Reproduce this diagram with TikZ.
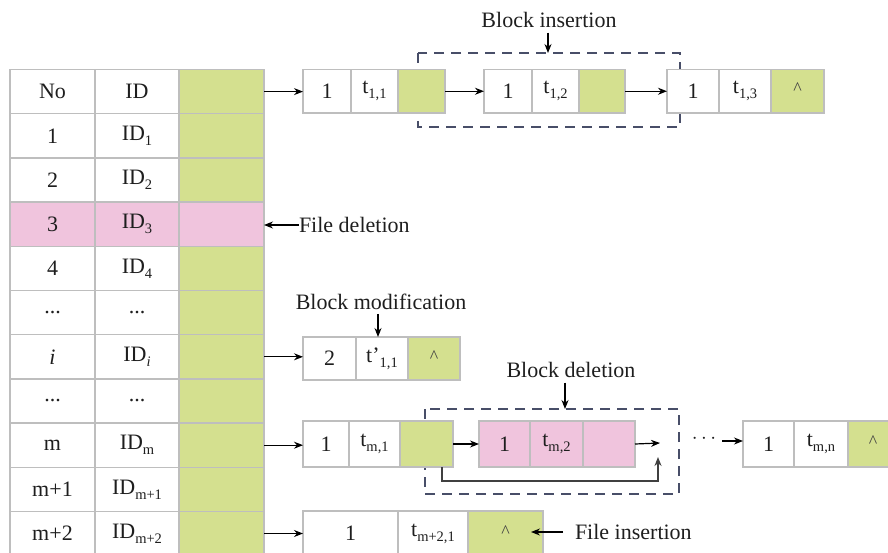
\documentclass[tikz,border=0pt]{standalone}
\usepackage{fontspec}
\setmainfont{Liberation Serif}
\usetikzlibrary{arrows.meta,calc}
\definecolor{cgreen}{RGB}{212,224,143}
\definecolor{cpink}{RGB}{240,196,221}
\definecolor{cgray}{RGB}{190,190,190}
\definecolor{cdash}{RGB}{72,78,104}
\definecolor{ctext}{RGB}{30,30,30}
\newcommand\lowsub[1]{\raisebox{-0.22em}{\fontsize{14.5}{14.5}\selectfont #1}}
\newcommand\caretmark{{\color{black!75}\fontsize{18}{18}\selectfont\raisebox{0.25em}{\textasciicircum}}}
\newcommand\cellbox[7]{\node[cell,fill=#6,minimum width={(#4-#2)*1pt},minimum height={(#5-#3)*1pt}] (#1) at ({(#2+#4)/2},{(#3+#5)/2}) {#7};}
\tikzset{
  cell/.style={draw=cgray, line width=1.3pt, inner sep=0pt, outer sep=0pt, text=ctext, font=\fontsize{22}{25}\selectfont},
  lbl/.style={inner sep=0pt, outer sep=0pt, text=ctext, font=\fontsize{22}{25}\selectfont},
  arr/.style={-{Stealth[length=9pt,width=7pt]}, line width=1.2pt, black},
  dashbox/.style={draw=cdash, line width=1.3pt, dash pattern=on 10pt off 7pt},
}
\begin{document}
\begin{tikzpicture}[x=1pt,y=-1pt]
\useasboundingbox (0,0) rectangle (888,553);
\clip (0,0) rectangle (888,553);
% dashed boxes (behind cells)
\draw[dashbox] (418,53) rectangle (680,127);
\draw[dashbox] (425,409) rectangle (679,494);
% table
\cellbox{n0}{10}{69.5}{95}{113.7}{white}{No}
\cellbox{d0}{95}{69.5}{179}{113.7}{white}{ID}
\cellbox{p0}{179}{69.5}{264}{113.7}{cgreen}{}
\cellbox{n1}{10}{113.7}{95}{157.9}{white}{1}
\cellbox{d1}{95}{113.7}{179}{157.9}{white}{ID\lowsub{1}}
\cellbox{p1}{179}{113.7}{264}{157.9}{cgreen}{}
\cellbox{n2}{10}{157.9}{95}{202.1}{white}{2}
\cellbox{d2}{95}{157.9}{179}{202.1}{white}{ID\lowsub{2}}
\cellbox{p2}{179}{157.9}{264}{202.1}{cgreen}{}
\cellbox{n3}{10}{202.1}{95}{246.3}{cpink}{3}
\cellbox{d3}{95}{202.1}{179}{246.3}{cpink}{ID\lowsub{3}}
\cellbox{p3}{179}{202.1}{264}{246.3}{cpink}{}
\cellbox{n4}{10}{246.3}{95}{290.5}{white}{4}
\cellbox{d4}{95}{246.3}{179}{290.5}{white}{ID\lowsub{4}}
\cellbox{p4}{179}{246.3}{264}{290.5}{cgreen}{}
\cellbox{n5}{10}{290.5}{95}{334.7}{white}{...}
\cellbox{d5}{95}{290.5}{179}{334.7}{white}{...}
\cellbox{p5}{179}{290.5}{264}{334.7}{cgreen}{}
\cellbox{n6}{10}{334.7}{95}{378.9}{white}{\textit{i}}
\cellbox{d6}{95}{334.7}{179}{378.9}{white}{ID\lowsub{\textit{i}}}
\cellbox{p6}{179}{334.7}{264}{378.9}{cgreen}{}
\cellbox{n7}{10}{378.9}{95}{423.1}{white}{...}
\cellbox{d7}{95}{378.9}{179}{423.1}{white}{...}
\cellbox{p7}{179}{378.9}{264}{423.1}{cgreen}{}
\cellbox{n8}{10}{423.1}{95}{467.3}{white}{m}
\cellbox{d8}{95}{423.1}{179}{467.3}{white}{ID\lowsub{m}}
\cellbox{p8}{179}{423.1}{264}{467.3}{cgreen}{}
\cellbox{n9}{10}{467.3}{95}{511.5}{white}{m+1}
\cellbox{d9}{95}{467.3}{179}{511.5}{white}{ID\lowsub{m+1}}
\cellbox{p9}{179}{467.3}{264}{511.5}{cgreen}{}
\cellbox{n10}{10}{511.5}{95}{555.7}{white}{m+2}
\cellbox{d10}{95}{511.5}{179}{555.7}{white}{ID\lowsub{m+2}}
\cellbox{p10}{179}{511.5}{264}{555.7}{cgreen}{}
% top chain
\cellbox{a1}{303}{69.5}{351}{113}{white}{1}
\cellbox{a1t}{351}{69.5}{398}{113}{white}{t\lowsub{1,1}}
\cellbox{a1p}{398}{69.5}{445}{113}{cgreen}{}
\cellbox{a2}{484}{69.5}{532}{113}{white}{1}
\cellbox{a2t}{532}{69.5}{579}{113}{white}{t\lowsub{1,2}}
\cellbox{a2p}{579}{69.5}{625}{113}{cgreen}{}
\cellbox{a3}{667}{69.5}{719}{113}{white}{1}
\cellbox{a3t}{719}{69.5}{771}{113}{white}{t\lowsub{1,3}}
\cellbox{a3p}{771}{69.5}{824}{113}{cgreen}{\caretmark}
% modification
\cellbox{b1}{303}{337}{356}{380}{white}{2}
\cellbox{b1t}{356}{337}{408}{380}{white}{t'\lowsub{1,1}}
\cellbox{b1p}{408}{337}{460}{380}{cgreen}{\caretmark}
% row m
\cellbox{c1}{303}{421}{349}{467}{white}{1}
\cellbox{c1t}{349}{421}{400}{467}{white}{t\lowsub{m,1}}
\cellbox{c1p}{400}{421}{453}{467}{cgreen}{}
\cellbox{c2}{479}{421}{530}{467}{cpink}{1}
\cellbox{c2t}{530}{421}{583}{467}{cpink}{t\lowsub{m,2}}
\cellbox{c2p}{583}{421}{635}{467}{cpink}{}
\cellbox{c3}{743}{421}{794}{467}{white}{1}
\cellbox{c3t}{794}{421}{848}{467}{white}{t\lowsub{m,n}}
\cellbox{c3p}{848}{421}{898}{467}{cgreen}{\caretmark}
% row m+2
\cellbox{e1}{303}{511}{398}{556}{white}{1}
\cellbox{e1t}{398}{511}{468}{556}{white}{t\lowsub{m+2,1}}
\cellbox{e1p}{468}{511}{543}{556}{cgreen}{\caretmark}
% labels
\node[lbl] (lbI) at (549,20) {Block insertion};
\node[lbl] (lbM) at (381,302) {Block modification};
\node[lbl] (lbD) at (571,370) {Block deletion};
\node[lbl,anchor=west] (lbFD) at (299,225) {File deletion};
\node[lbl,anchor=west] (lbFI) at (575,532) {File insertion};
\node[lbl] (dots) at (704,441) {\raisebox{0.2em}{$\cdots$}};
\coordinate (dI) at (548,53);
\coordinate (dD) at (565,409);
\coordinate (ret) at (660,443);
\coordinate (retB) at (658,457);
% connectors
\draw[arr] (p0.east) -- (p0.east -| a1.west);
\draw[arr] (a1p.east) -- (a1p.east -| a2.west);
\draw[arr] (a2p.east) -- (a2p.east -| a3.west);
\draw[arr] (p6.east) -- (p6.east -| b1.west);
\draw[arr] (p8.east) -- (p8.east -| c1.west);
\draw[arr] (c1p.east) -- (c1p.east -| c2.west);
\draw[arr] (c2p.east) -- (ret);
\draw[arr, draw=black!75, line width=1.5pt] ([xshift=-11pt]c1p.south east) -- ++(0,14) -| (retB);
\draw[arr] ([xshift=6pt]dots.east) -- (dots.east -| c3.west);
\draw[arr] (p10.east |- e1.west) -- (e1.west);
\draw[arr] (lbFD.west) -- (lbFD.west -| p3.east);
\draw[arr] ([xshift=-12pt]lbFI.west) -- ([xshift=-12pt]lbFI.west -| e1p.east);
\draw[arr] ([yshift=-5pt]lbI.south -| dI) -- (dI);
\draw[arr] ([xshift=-3pt,yshift=-4pt]lbM.south) -- ([xshift=-3pt]lbM.south |- b1t.north);
\draw[arr] ([yshift=-5pt]lbD.south -| dD) -- (dD);
\end{tikzpicture}
\end{document}
